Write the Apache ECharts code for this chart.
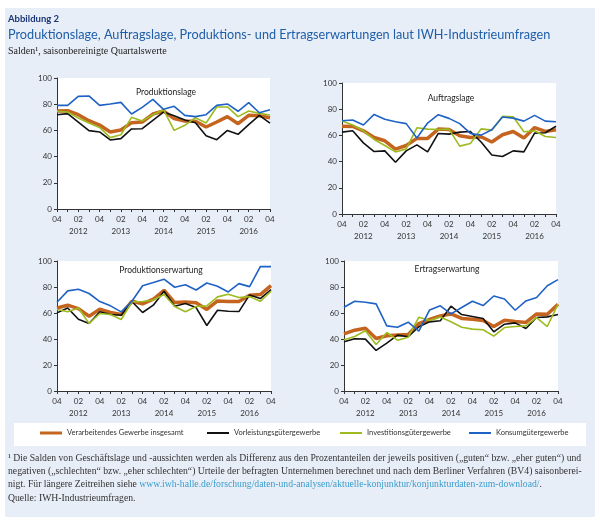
<!DOCTYPE html>
<html><head><meta charset="utf-8">
<script src="https://cdn.jsdelivr.net/npm/echarts@6/dist/echarts.min.js"></script>
<style>html,body{margin:0;padding:0;background:#fff}#c{width:600px;height:521px}</style>
</head><body><div id="c"></div><script>
// Categories: quarterly, 2011 Q4 .. 2016 Q4
const categories = ['2011Q4','2012Q1','2012Q2','2012Q3','2012Q4','2013Q1','2013Q2','2013Q3','2013Q4','2014Q1','2014Q2','2014Q3','2014Q4','2015Q1','2015Q2','2015Q3','2015Q4','2016Q1','2016Q2','2016Q3','2016Q4'];
const quarterLabels = ['04','','02','','04','','02','','04','','02','','04','','02','','04','','02','','04'];
const yearLabels = ['','','2012','','','','2013','','','','2014','','','','2015','','','','2016','',''];
const yTicks = [0,20,40,60,80,100];

const seriesNames = ['Verarbeitendes Gewerbe insgesamt','Vorleistungsgütergewerbe','Investitionsgütergewerbe','Konsumgütergewerbe'];
const panelTitles = ['Produktionslage','Auftragslage','Produktionserwartung','Ertragserwartung'];

// Produktionslage
const prodLageGesamt = [74.8,75,72,67.4,64.1,58.8,60.3,65.9,66.4,72.5,74.8,69,67.2,67,62.6,66.4,70.5,65.1,71.5,71.2,69.7];
const prodLageVorl   = [72,72.8,66.4,59.8,58.8,52.7,53.7,61.1,61.3,67.7,74,71.2,67.9,65.9,56,52.9,60,57,64.4,71.5,65.6];
const prodLageInv    = [74.6,74,69.5,65.6,62.3,54.5,56.7,70,67.2,72,75.8,60,63.9,69.7,65.6,77.9,77.9,70.5,74.8,73,71.8];
const prodLageKons   = [79.1,79.1,86,86.3,79.1,80.2,81.4,72.5,77.6,83.7,76.1,78.4,71.5,70.5,72,79.1,80.2,74.6,81.2,73.5,75.8];
// Auftragslage
const auftrGesamt = [67,66.8,63.5,58.4,55.9,49.5,52.3,57.7,57.7,64.8,64.5,59.7,58.4,59,55,60.5,63,58,66,63,64.3];
const auftrVorl   = [62.5,63.5,54.3,47.7,48.2,39.5,48.2,52.8,47.4,61.5,61,62.5,63,55,45,43.9,48.2,47.4,61.7,62,67];
const auftrInv    = [71,67.9,63.5,56.9,52.3,47.4,49.7,65.8,64.8,64.5,64.8,51.8,53.8,65,64,74.5,74.2,62.8,63.5,59.2,58.4];
const auftrKons   = [71.2,71.7,67.9,76,72.4,70.4,69,58,69.4,75.8,73,69,61.5,60.2,64.3,74,73.2,70.9,75.3,70.9,70.4];
// Produktionserwartung
const prodErwGesamt = [63.9,66,63.4,57.5,62.9,60.4,58.8,69,67,70.6,77.5,68,68.5,67.8,62.7,69.3,68.8,68.8,73.7,74.2,81];
const prodErwVorl   = [60.1,63.9,55.2,51.9,60.9,58.8,58.3,68.8,60.4,66,76.7,65.2,67.3,64.2,50.4,62.1,61.4,61.1,73.9,71.1,78];
const prodErwInv    = [62.7,60.9,63.9,51.9,59.6,58.8,55,68.5,68.8,70,74.2,65,60.9,65,65.5,72.4,74.4,71.9,72.6,69,76.7];
const prodErwKons   = [68.3,77,78.3,75,68.8,65.5,60.9,69,81,83.4,86,79.8,81.8,77.7,83.1,80.6,76.2,82.6,80.3,95.7,95.7];
// Ertragserwartung
const ertrGesamt = [44,46.8,48.3,40.4,42.5,43,43.5,51.9,55,57.8,59.3,55.8,55.2,54.2,49.6,54.5,53.5,52.7,59.3,59.1,66.8];
const ertrVorl   = [37.9,40.2,39.9,31.2,36.8,43,41.7,49.4,53.2,54,65.2,58.8,57.3,55.8,45.5,51.4,52.4,48.1,56.5,57,58.8];
const ertrInv    = [39.4,41.9,46.3,35.8,45,39.1,41.4,56.8,54.2,57,53.2,49.1,47.6,47.1,42.2,48.8,49.6,50.1,56.5,49.6,66.8];
const ertrKons   = [64.4,69,68.3,67,50.1,49.1,52.9,46,62.4,65.5,59.3,64.2,69,65.7,73.1,70.8,62.1,69.3,71.9,81,85.7];

const panels = [
  [prodLageGesamt, prodLageVorl, prodLageInv, prodLageKons],
  [auftrGesamt, auftrVorl, auftrInv, auftrKons],
  [prodErwGesamt, prodErwVorl, prodErwInv, prodErwKons],
  [ertrGesamt, ertrVorl, ertrInv, ertrKons]
];

const colors = ['#c4641f','#111111','#9dbb1f','#1f62c6'];
const widths = [3.5,1.6,1.6,1.6];
const grids = [
  {left:57, top:78, width:213, height:131},
  {left:342, top:83, width:214, height:131},
  {left:57, top:261, width:214, height:130},
  {left:344, top:261, width:214, height:130}
];
const titlePos = [[166,92],[451,98],[161,270],[447,269]];
const legendLeft = [40,207,340,469];

const sansFont = 'Lato, "Open Sans", sans-serif';
const serifFont = '"Liberation Serif", serif';

const option = {
  animation:false,
  backgroundColor:'#ffffff',
  grid: grids.map(g => Object.assign({show:true, backgroundColor:'#ffffff', borderWidth:0}, g)),
  xAxis: grids.map((g,i) => ({
    type:'category', gridIndex:i, data:categories, boundaryGap:false,
    axisLine:{lineStyle:{color:'#333', width:1}},
    axisTick:{interval:0, length:3, lineStyle:{color:'#333'}},
    axisLabel:{interval:0, margin:4, color:'#333', fontFamily:sansFont, fontSize:8, lineHeight:12,
      formatter:(v,idx)=> quarterLabels[idx] + (yearLabels[idx] ? '\n' + yearLabels[idx] : '')},
    splitLine:{show:false}
  })),
  yAxis: grids.map((g,i) => ({
    type:'value', gridIndex:i, min:yTicks[0], max:yTicks[yTicks.length-1], interval:20,
    axisLine:{show:true, lineStyle:{color:'#333', width:1}},
    axisTick:{show:true, length:3, lineStyle:{color:'#333'}},
    axisLabel:{color:'#333', fontFamily:sansFont, fontSize:8, margin:5},
    splitLine:{show:false}
  })),
  legend: seriesNames.map((n,i) => ({
    data:[n], left:legendLeft[i], top:429, icon:'rect', itemWidth:22, itemHeight:i===0?3:2,
    itemGap:4, padding:0, textStyle:{color:'#333', fontFamily:sansFont, fontSize:7.5}
  })),
  series: [],
  graphic: [
    {type:'rect', z:-10, shape:{x:5,y:8,width:590,height:509}, style:{fill:'#e8eef8'}},
    {type:'rect', z:-5, shape:{x:14,y:423,width:572,height:23}, style:{fill:'#ffffff'}},
    {type:'text', left:8, top:14, style:{text:'Abbildung 2', fill:'#1a3575', font:'bold 9.5px ' + sansFont}},
    {type:'text', left:8, top:28, style:{text:'Produktionslage, Auftragslage, Produktions- und Ertragserwartungen laut IWH-Industrieumfragen', fill:'#1f5ea8', font:'12.7px ' + sansFont}},
    {type:'text', left:8, top:46, style:{text:'Salden¹, saisonbereinigte Quartalswerte', fill:'#222', font:'10px ' + serifFont}},
    {type:'text', left:8, top:453, style:{text:'¹ Die Salden von Geschäftslage und -aussichten werden als Differenz aus den Prozentanteilen der jeweils positiven („guten“ bzw. „eher guten“) und', fill:'#333', font:'9.7px ' + serifFont}},
    {type:'text', left:8, top:466, style:{text:'negativen („schlechten“ bzw. „eher schlechten“) Urteile der befragten Unternehmen berechnet und nach dem Berliner Verfahren (BV4) saisonberei-', fill:'#333', font:'9.7px ' + serifFont}},
    {type:'text', left:8, top:479, style:{
      text:'{a|nigt. Für längere Zeitreihen siehe }{b|www.iwh-halle.de/forschung/daten-und-analysen/aktuelle-konjunktur/konjunkturdaten-zum-download/}{a|.}',
      rich:{a:{fill:'#333', font:'9.7px ' + serifFont}, b:{fill:'#3a9ccc', font:'9.7px ' + serifFont}}}},
    {type:'text', left:8, top:493, style:{text:'Quelle: IWH-Industrieumfragen.', fill:'#333', font:'9.7px ' + serifFont}}
  ].concat(panelTitles.map((t,i)=>({type:'text', x:titlePos[i][0], y:titlePos[i][1], z:10,
      style:{text:t, fill:'#222', font:'8.5px ' + sansFont, textAlign:'center', textVerticalAlign:'middle'}})))
};

panels.forEach((p,pi) => {
  p.forEach((d,si) => {
    option.series.push({
      type:'line', name:seriesNames[si], xAxisIndex:pi, yAxisIndex:pi, data:d,
      showSymbol:false, symbol:'none', lineStyle:{color:colors[si], width:widths[si]},
      itemStyle:{color:colors[si]}, z:si===0?2:3
    });
  });
});

const chart = echarts.init(document.getElementById('c'), null, {renderer:'canvas'});
chart.setOption(option);
</script></body></html>
